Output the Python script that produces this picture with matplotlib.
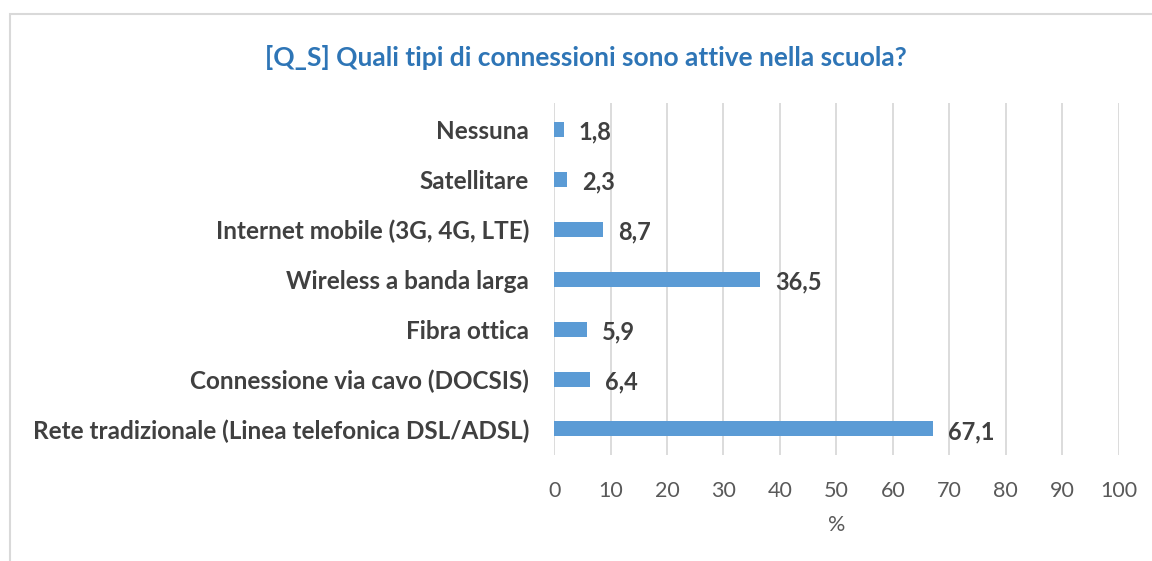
import matplotlib.pyplot as plt
from matplotlib.patches import Rectangle

categories = [
    "Rete tradizionale (Linea telefonica DSL/ADSL)",
    "Connessione via cavo (DOCSIS)",
    "Fibra ottica",
    "Wireless a banda larga",
    "Internet mobile (3G, 4G, LTE)",
    "Satellitare",
    "Nessuna",
]
values = [67.1, 6.4, 5.9, 36.5, 8.7, 2.3, 1.8]
value_labels = ["67,1", "6,4", "5,9", "36,5", "8,7", "2,3", "1,8"]
xticks = list(range(0, 101, 10))

plt.rcParams['font.family'] = ['Lato', 'DejaVu Sans']

fig = plt.figure(figsize=(11.52, 5.61), dpi=100)
ax = fig.add_axes([0.481, 0.189, 0.490, 0.627])

# chart frame (only top/left visible in the crop)
fig.patches.append(Rectangle((10 / 1152, -0.1), 1.2, 1 - 14 / 561 + 0.1,
                             transform=fig.transFigure, fill=False,
                             edgecolor='#D9D9D9', linewidth=1.5))

y = list(range(len(categories)))
ax.barh(y, values, height=0.3, color='#5B9BD5', zorder=3)

for yi, v, lab in zip(y, values, value_labels):
    ax.text(v + 2.6, yi - 0.06, lab, va='center', ha='left',
            fontsize=17, fontweight='bold', color='#404040')

ax.set_xlim(0, 100)
ax.set_ylim(-0.52, 6.52)
ax.set_xticks(xticks)
ax.set_yticks(y)
ax.set_yticklabels(categories, fontsize=17.5, fontweight='bold', color='#404040')
ax.tick_params(axis='x', labelsize=15.5, colors='#595959', length=0, pad=19)
ax.tick_params(axis='y', length=0, pad=18)
ax.grid(axis='x', color='#D9D9D9', linewidth=1.3, zorder=0)
for s in ax.spines.values():
    s.set_visible(False)

ax.set_xlabel('%', fontsize=15.5, color='#595959', labelpad=10)

fig.text(586 / 1152, 1 - 58 / 561, "[Q_S] Quali tipi di connessioni sono attive nella scuola?",
         ha='center', va='center', fontsize=19, fontweight='bold', color='#2E75B6')

fig.savefig('out.png', dpi=100)
